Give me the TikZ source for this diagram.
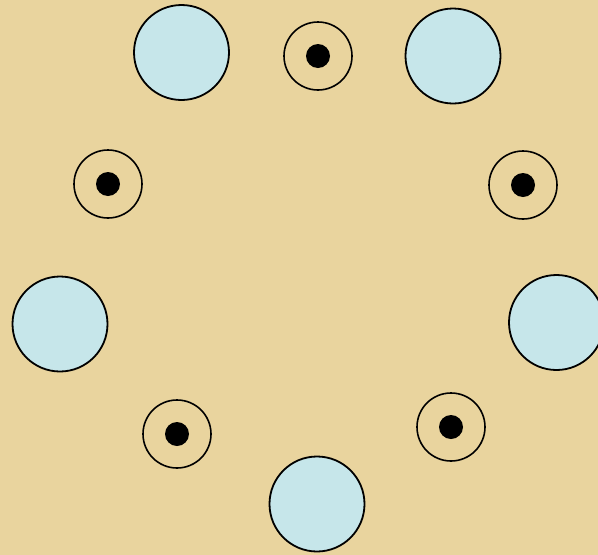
\documentclass[tikz,border=0pt]{standalone}
\usepackage{xcolor}
\usepackage{tikz}

\definecolor{papyrus}{RGB}{233,212,158}
\definecolor{paleblue}{RGB}{198,230,234}

\begin{document}
\begin{tikzpicture}[
  x=1pt,y=-1pt,
  bigdisc/.style={draw,circle,line width=1.8pt,fill=paleblue,
                  minimum size=95pt,inner sep=0pt},
  ringbox/.style={draw,circle,line width=1.6pt,
                  minimum size=68pt,inner sep=0pt},
  dotbox/.style={circle,fill=black,minimum size=24pt,inner sep=0pt}
]
 \clip (0,0) rectangle (598,555);
 \fill[papyrus] (0,0) rectangle (598,555);
 % large discs
 \node[bigdisc] (topl) at (181.5,52.5) {};
 \node[bigdisc] (topr) at (453,56) {};
 \node[bigdisc] (left) at (60,324) {};
 \node[bigdisc] (right) at (556.5,322.5) {};
 \node[bigdisc] (bot) at (317,504) {};
 % rings with a dot
 \node[ringbox] (rtop) at (318,56) {};
 \node[dotbox] (dtop) at (rtop) {};
 \node[ringbox] (rul) at (108,184) {};
 \node[dotbox] (dul) at (rul) {};
 \node[ringbox] (rur) at (523,185) {};
 \node[dotbox] (dur) at (rur) {};
 \node[ringbox] (rll) at (177,434) {};
 \node[dotbox] (dll) at (rll) {};
 \node[ringbox] (rlr) at (451,427) {};
 \node[dotbox] (dlr) at (rlr) {};
\end{tikzpicture}
\end{document}
